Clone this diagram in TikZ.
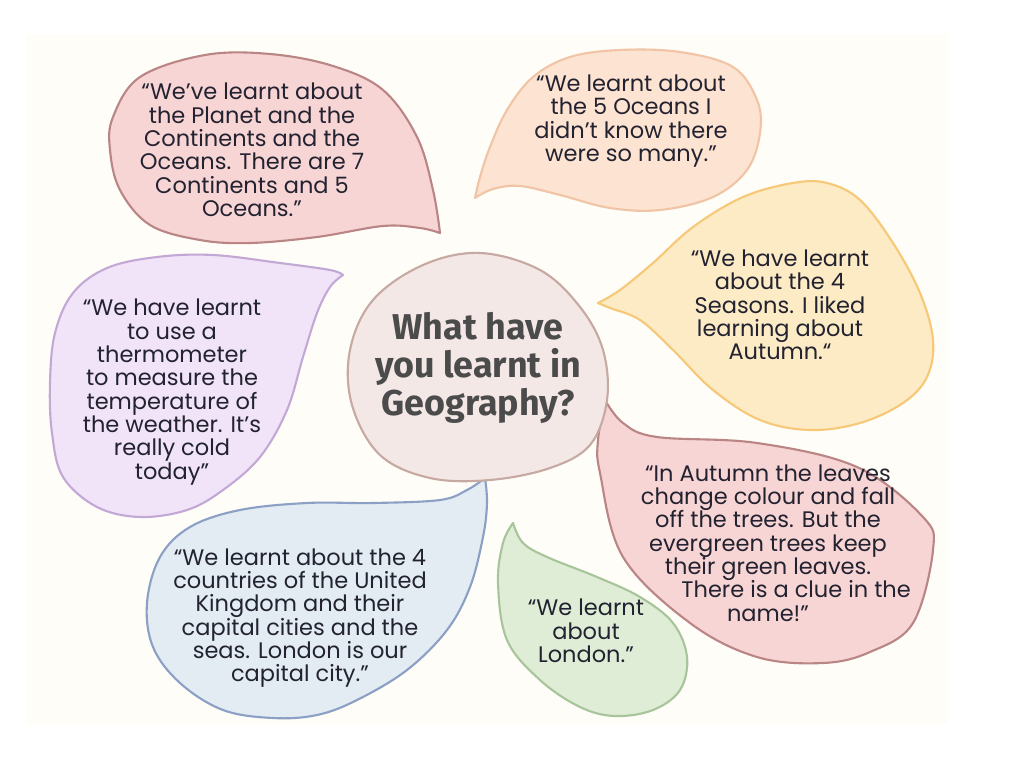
\documentclass[tikz,border=0pt]{standalone}
\usepackage{fontspec}
\setmainfont{Poppins}
\newfontfamily\titlefont{Fira Sans}
\usetikzlibrary{positioning}
\definecolor{cream}{HTML}{FEFDF7}
\definecolor{ink}{HTML}{222230}
\definecolor{titleink}{HTML}{4B4B4B}
\definecolor{rosefill}{HTML}{F8D5D5}\definecolor{roseline}{HTML}{B98585}
\definecolor{peachfill}{HTML}{FDE3D1}\definecolor{peachline}{HTML}{F1C4A6}
\definecolor{sunfill}{HTML}{FCEBC4}\definecolor{sunline}{HTML}{F7C878}
\definecolor{lilacfill}{HTML}{F1E4F8}\definecolor{lilacline}{HTML}{C3A8D6}
\definecolor{skyfill}{HTML}{E2ECF2}\definecolor{skyline}{HTML}{8C9FC4}
\definecolor{leaffill}{HTML}{DFEDD7}\definecolor{leafline}{HTML}{A8C49B}
\definecolor{centrefill}{HTML}{F4E8E6}\definecolor{centreline}{HTML}{C6A9A2}
\tikzset{
  bubble/.style={line width=1.5pt, line join=round},
  saying/.style={align=center, text=ink, font=\fontsize{16}{16.6}\selectfont},
}
\newcommand\speechbubble[3]{%
  \filldraw[bubble, fill=#1, draw=#2] plot[smooth, tension=0.6] coordinates {#3} -- cycle;}

\begin{document}
\begin{tikzpicture}[x=0.025cm, y=-0.025cm]
		\useasboundingbox (0,0) rectangle (1018,762);
		\fill[cream] (26,34) rectangle (948,724);

		% speech bubbles, tip first
		\speechbubble{rosefill}{roseline}{(440,233) (433,190) (417,137) (383,90) (333,66) (270,54) (205,55) (140,77) (113,117) (110,150) (120,190) (150,225) (200,240) (250,243) (317,237) (383,226) (420,228) (440,233)}
		\speechbubble{peachfill}{peachline}{(475,198) (480,177) (490,147) (507,110) (533,77) (570,57) (620,50) (680,52) (733,67) (757,100) (760,133) (747,170) (713,197) (660,210) (610,208) (560,195) (520,186) (493,189) (475,198)}
		\speechbubble{sunfill}{sunline}{(598,303) (620,290) (653,263) (693,227) (743,197) (793,183) (827,183) (860,200) (893,243) (920,293) (933,340) (927,377) (903,403) (860,423) (810,430) (760,420) (713,390) (673,350) (640,320) (610,308) (598,303)}
		\speechbubble{lilacfill}{lilacline}{(343,275) (330,270) (280,263) (213,255) (157,257) (107,268) (73,293) (55,333) (50,383) (52,433) (63,477) (97,507) (140,517) (187,510) (223,490) (260,457) (287,410) (303,357) (317,313) (330,287) (343,275)}
		\speechbubble{skyfill}{skyline}{(485,478) (467,490) (440,500) (373,503) (307,503) (240,510) (190,527) (160,557) (147,603) (153,647) (180,683) (223,710) (273,718) (317,715) (357,700) (407,670) (447,630) (470,587) (483,537) (487,503) (485,478)}
		\speechbubble{leaffill}{leafline}{(513,523) (523,543) (547,557) (597,577) (640,597) (673,623) (687,657) (680,690) (653,710) (615,716) (580,707) (540,680) (507,640) (498,583) (503,543) (513,523)}
		\speechbubble{rosefill}{roseline}{(605,400) (623,423) (657,437) (757,443) (857,467) (923,517) (933,550) (913,623) (870,652) (823,663) (757,657) (690,623) (623,557) (600,473) (598,440) (605,400)}
		% middle blob
		\filldraw[bubble, fill=centrefill, draw=centreline] plot[smooth cycle, tension=0.6] coordinates {(480,253) (540,270) (580,307) (603,350) (607,400) (590,445) (550,468) (490,480) (430,478) (380,455) (352,405) (350,350) (373,300) (423,265)};

		\node[align=center, text=titleink, font=\titlefont\bfseries\fontsize{25.5}{27}\selectfont] (title) at (478,368) {What have\\you learnt in\\Geography?};
		\node[saying] (planet) at (252,150) {“We’ve learnt about\\the Planet and the\\Continents and the\\Oceans. There are 7\\Continents and 5\\Oceans.”};
		\node[saying] (oceans) at (631,121) {“We learnt about\\the 5 Oceans I\\didn’t know there\\were so many.”};
		\node[saying] (seasons) at (780,305) {“We have learnt\\about the 4\\Seasons. I liked\\learning about\\Autumn.“};
		\node[saying] (thermo) at (172,392) {“We have learnt\\to use a\\thermometer\\to measure the\\temperature of\\the weather. It’s\\really cold\\today”};
		\node[saying] (kingdom) at (300,618) {“We learnt about the 4\\countries of the United\\Kingdom and their\\capital cities and the\\seas. London is our\\capital city.”};
		\node[saying] (london) at (586,631) {“We learnt\\about\\London.”};
		\node[saying] (autumn) at (768,543) {“In Autumn the leaves\\change colour and fall\\off the trees. But the\\evergreen trees keep\\their green leaves.\\\hspace*{2.5em}There is a clue in the\\name!”};
\end{tikzpicture}
\end{document}
